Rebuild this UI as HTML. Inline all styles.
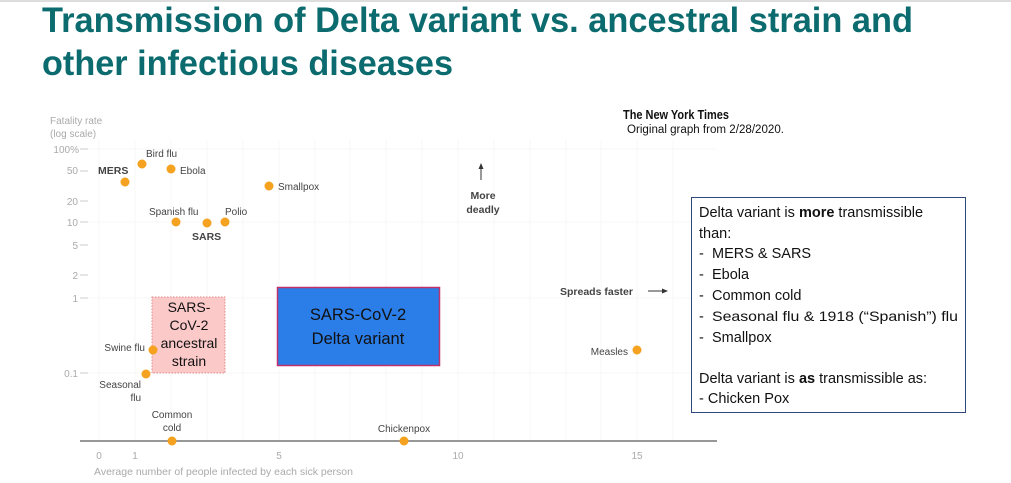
<!DOCTYPE html>
<html><head><meta charset="utf-8"><style>
html,body{margin:0;padding:0;background:#fff;}
svg{display:block;}
text{font-family:"Liberation Sans",sans-serif;}
</style></head><body>
<svg width="1011" height="483" viewBox="0 0 1011 483" xmlns="http://www.w3.org/2000/svg">
<rect x="0" y="0" width="1011" height="2" fill="#ddd"/>
<text x="42" y="32" font-size="35" font-weight="bold" fill="#0b6b6e" textLength="871" lengthAdjust="spacingAndGlyphs">Transmission of Delta variant vs. ancestral strain and</text>
<text x="42" y="75" font-size="35" font-weight="bold" fill="#0b6b6e" textLength="411" lengthAdjust="spacingAndGlyphs">other infectious diseases</text>

<g stroke="#f7f7f7" stroke-width="1">
<line x1="99" y1="140" x2="99" y2="441"/><line x1="135" y1="140" x2="135" y2="441"/><line x1="171" y1="140" x2="171" y2="441"/><line x1="207" y1="140" x2="207" y2="441"/><line x1="243" y1="140" x2="243" y2="441"/><line x1="279" y1="140" x2="279" y2="441"/><line x1="315" y1="140" x2="315" y2="441"/><line x1="350" y1="140" x2="350" y2="441"/><line x1="386" y1="140" x2="386" y2="441"/><line x1="422" y1="140" x2="422" y2="441"/><line x1="458" y1="140" x2="458" y2="441"/><line x1="494" y1="140" x2="494" y2="441"/><line x1="530" y1="140" x2="530" y2="441"/><line x1="566" y1="140" x2="566" y2="441"/><line x1="601" y1="140" x2="601" y2="441"/><line x1="637" y1="140" x2="637" y2="441"/><line x1="673" y1="140" x2="673" y2="441"/>
<line x1="88" y1="149" x2="717" y2="149"/><line x1="88" y1="222" x2="717" y2="222"/><line x1="88" y1="298" x2="717" y2="298"/><line x1="88" y1="373" x2="717" y2="373"/>
</g>
<g stroke="#ccc" stroke-width="1">
<line x1="80" y1="149" x2="88" y2="149"/><line x1="80" y1="171" x2="88" y2="171"/><line x1="80" y1="201" x2="88" y2="201"/><line x1="80" y1="222" x2="88" y2="222"/><line x1="80" y1="245" x2="88" y2="245"/><line x1="80" y1="275" x2="88" y2="275"/><line x1="80" y1="298" x2="88" y2="298"/><line x1="80" y1="373" x2="88" y2="373"/>
</g>
<g font-size="10" fill="#aaa" text-anchor="end">
<text x="79" y="153">100%</text><text x="78" y="174">50</text><text x="78" y="205">20</text><text x="78" y="226">10</text><text x="78" y="249">5</text><text x="78" y="279">2</text><text x="78" y="302">1</text><text x="78" y="377">0.1</text>
</g>
<text x="50" y="124" font-size="10" fill="#aaa">Fatality rate</text>
<text x="50" y="137" font-size="10" fill="#aaa">(log scale)</text>

<line x1="80" y1="441" x2="717" y2="441" stroke="#777" stroke-width="1.5"/>
<g font-size="10" fill="#aaa" text-anchor="middle">
<text x="99" y="459">0</text><text x="135" y="459">1</text><text x="279" y="459">5</text><text x="458" y="459">10</text><text x="637" y="459">15</text>
</g>
<text x="94" y="475" font-size="10.5" fill="#aaa">Average number of people infected by each sick person</text>

<rect x="152" y="297" width="73" height="76" fill="#fcc9c9" stroke="#e08a8a" stroke-width="1" stroke-dasharray="1.5,1.5"/>
<g font-size="14" fill="#111" text-anchor="middle">
<text x="189" y="312">SARS-</text><text x="189" y="330">CoV-2</text><text x="189" y="348">ancestral</text><text x="189" y="366">strain</text>
</g>
<rect x="277.5" y="287.5" width="162" height="78" fill="#2b7de8" stroke="#c0306a" stroke-width="1.5"/>
<text x="358" y="320" font-size="16.5" fill="#111" text-anchor="middle">SARS-CoV-2</text>
<text x="358" y="344" font-size="16.5" fill="#111" text-anchor="middle">Delta variant</text>

<g fill="#f4a21f">
<circle cx="125" cy="182" r="4.5"/><circle cx="142" cy="164" r="4.5"/><circle cx="171" cy="169" r="4.5"/><circle cx="269" cy="186" r="4.5"/>
<circle cx="176" cy="222" r="4.5"/><circle cx="207" cy="223" r="4.5"/><circle cx="225" cy="222" r="4.5"/>
<circle cx="153" cy="350" r="4.5"/><circle cx="146" cy="374" r="4.5"/><circle cx="172" cy="441" r="4.5"/><circle cx="404" cy="441" r="4.5"/><circle cx="637" cy="350" r="4.5"/>
</g>
<g font-size="10" fill="#444">
<text x="146" y="157">Bird flu</text>
<text x="98" y="174" font-weight="bold" font-size="10.5">MERS</text>
<text x="180" y="174">Ebola</text>
<text x="278" y="190">Smallpox</text>
<text x="149" y="215">Spanish flu</text>
<text x="225" y="215">Polio</text>
<text x="192" y="240" font-weight="bold" font-size="10.5">SARS</text>
<text x="145" y="351" text-anchor="end">Swine flu</text>
<text x="141" y="388" text-anchor="end">Seasonal</text>
<text x="141" y="401" text-anchor="end">flu</text>
<text x="172" y="418" text-anchor="middle">Common</text>
<text x="172" y="431" text-anchor="middle">cold</text>
<text x="404" y="432" text-anchor="middle">Chickenpox</text>
<text x="628" y="355" text-anchor="end">Measles</text>
<text x="483" y="199" text-anchor="middle" font-weight="bold" font-size="10.5">More</text>
<text x="483" y="213" text-anchor="middle" font-weight="bold" font-size="10.5">deadly</text>
<text x="560" y="295" font-weight="bold" font-size="10.5">Spreads faster</text>
</g>
<line x1="481" y1="180" x2="481" y2="167" stroke="#333" stroke-width="1"/>
<polygon points="481,163 478.5,169 483.5,169" fill="#333"/>
<line x1="648" y1="291" x2="664" y2="291" stroke="#333" stroke-width="1"/>
<polygon points="668,291 662,288.5 662,293.5" fill="#333"/>

<text x="623" y="119" font-family="Liberation Serif,serif" font-weight="bold" font-size="13" fill="#111" textLength="106" lengthAdjust="spacingAndGlyphs">The New York Times</text>
<text x="627" y="133" font-size="11.5" fill="#111" textLength="157" lengthAdjust="spacingAndGlyphs">Original graph from 2/28/2020.</text>

<rect x="691.5" y="197.5" width="274" height="215" fill="#fff" stroke="#2f4a7a" stroke-width="1"/>
<g font-size="14.5" fill="#111">
<text x="699" y="217">Delta variant is <tspan font-weight="bold">more</tspan> transmissible</text>
<text x="699" y="238">than:</text>
<text x="699" y="258">-</text><text x="712" y="258">MERS &amp; SARS</text>
<text x="699" y="279">-</text><text x="712" y="279">Ebola</text>
<text x="699" y="300">-</text><text x="712" y="300">Common cold</text>
<text x="699" y="321">-</text><text x="712" y="321" font-size="14" textLength="246" lengthAdjust="spacingAndGlyphs">Seasonal flu &amp; 1918 (“Spanish”) flu</text>
<text x="699" y="342">-</text><text x="712" y="342">Smallpox</text>
<text x="699" y="383">Delta variant is <tspan font-weight="bold">as</tspan> transmissible as:</text>
<text x="699" y="403">- Chicken Pox</text>
</g>
</svg>
</body></html>
